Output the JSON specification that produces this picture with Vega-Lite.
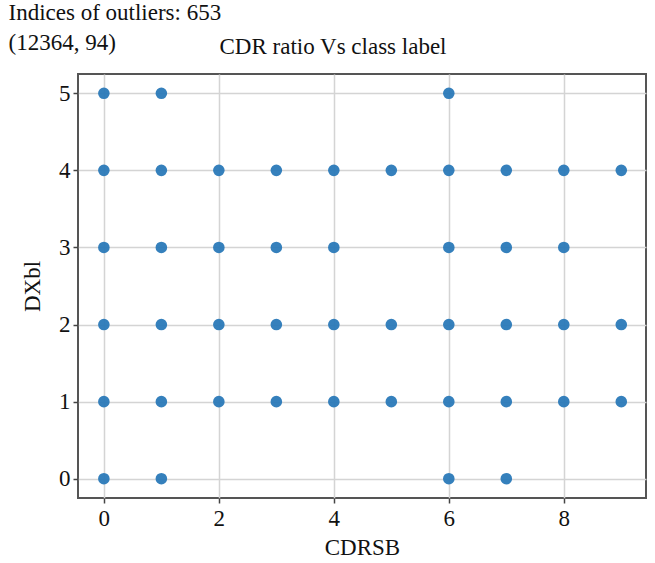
{
  "$schema": "https://vega.github.io/schema/vega-lite/v6.json",
  "background": "white",
  "padding": {"left": 8, "top": 2, "right": 10, "bottom": 3},
  "title": {
    "text": ["Indices of outliers: 653", "(12364, 94)"],
    "anchor": "start",
    "frame": "bounds",
    "font": "Liberation Serif",
    "fontSize": 23,
    "fontWeight": "normal",
    "color": "#111",
    "lineHeight": 30,
    "dx": -12,
    "offset": -20
  },
  "config": {
    "font": "Liberation Serif",
    "view": {"stroke": "#555", "strokeWidth": 2},
    "axis": {
      "labelFont": "Liberation Serif",
      "titleFont": "Liberation Serif",
      "labelFontSize": 23,
      "titleFontSize": 23,
      "titleFontWeight": "normal",
      "labelColor": "#111",
      "titleColor": "#111",
      "domain": false,
      "tickColor": "#444",
      "tickSize": 5,
      "tickWidth": 1.5,
      "gridColor": "#d4d4d4",
      "gridWidth": 1.5
    }
  },
  "vconcat": [
    {
      "width": 568,
      "height": 424,
      "title": {
        "text": "CDR ratio Vs class label",
        "font": "Liberation Serif",
        "fontSize": 23,
        "fontWeight": "normal",
        "color": "#111",
        "dx": -29,
        "offset": 15
      },
      "data": {
        "values": [
          {"CDRSB": 0, "DXbl": 5}, {"CDRSB": 1, "DXbl": 5}, {"CDRSB": 6, "DXbl": 5},
          {"CDRSB": 0, "DXbl": 4}, {"CDRSB": 1, "DXbl": 4}, {"CDRSB": 2, "DXbl": 4}, {"CDRSB": 3, "DXbl": 4}, {"CDRSB": 4, "DXbl": 4}, {"CDRSB": 5, "DXbl": 4}, {"CDRSB": 6, "DXbl": 4}, {"CDRSB": 7, "DXbl": 4}, {"CDRSB": 8, "DXbl": 4}, {"CDRSB": 9, "DXbl": 4},
          {"CDRSB": 0, "DXbl": 3}, {"CDRSB": 1, "DXbl": 3}, {"CDRSB": 2, "DXbl": 3}, {"CDRSB": 3, "DXbl": 3}, {"CDRSB": 4, "DXbl": 3}, {"CDRSB": 6, "DXbl": 3}, {"CDRSB": 7, "DXbl": 3}, {"CDRSB": 8, "DXbl": 3},
          {"CDRSB": 0, "DXbl": 2}, {"CDRSB": 1, "DXbl": 2}, {"CDRSB": 2, "DXbl": 2}, {"CDRSB": 3, "DXbl": 2}, {"CDRSB": 4, "DXbl": 2}, {"CDRSB": 5, "DXbl": 2}, {"CDRSB": 6, "DXbl": 2}, {"CDRSB": 7, "DXbl": 2}, {"CDRSB": 8, "DXbl": 2}, {"CDRSB": 9, "DXbl": 2},
          {"CDRSB": 0, "DXbl": 1}, {"CDRSB": 1, "DXbl": 1}, {"CDRSB": 2, "DXbl": 1}, {"CDRSB": 3, "DXbl": 1}, {"CDRSB": 4, "DXbl": 1}, {"CDRSB": 5, "DXbl": 1}, {"CDRSB": 6, "DXbl": 1}, {"CDRSB": 7, "DXbl": 1}, {"CDRSB": 8, "DXbl": 1}, {"CDRSB": 9, "DXbl": 1},
          {"CDRSB": 0, "DXbl": 0}, {"CDRSB": 1, "DXbl": 0}, {"CDRSB": 6, "DXbl": 0}, {"CDRSB": 7, "DXbl": 0}
        ]
      },
      "mark": {"type": "point", "filled": true, "color": "#2a79b8", "opacity": 0.95, "size": 135},
      "encoding": {
        "x": {
          "field": "CDRSB", "type": "quantitative",
          "scale": {"domain": [-0.45, 9.43], "nice": false, "zero": false},
          "axis": {"values": [0, 2, 4, 6, 8], "labelPadding": 4, "titlePadding": 6}
        },
        "y": {
          "field": "DXbl", "type": "quantitative",
          "scale": {"domain": [-0.25, 5.25], "nice": false, "zero": false},
          "axis": {"values": [0, 1, 2, 3, 4, 5], "labelPadding": 3, "titlePadding": 14}
        }
      }
    }
  ]
}
